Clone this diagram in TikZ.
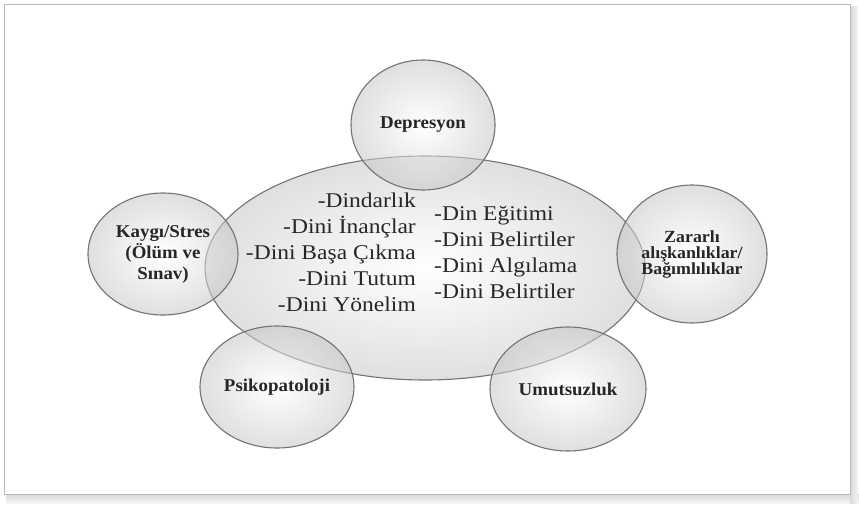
\documentclass[tikz,border=0pt]{standalone}
\usepackage{fontspec}
\setmainfont{Liberation Serif}
\newfontfamily\listfont[FakeStretch=1.12]{Liberation Serif}
\newfontfamily\labelfont[FakeStretch=1.05]{Liberation Serif}
\usetikzlibrary{shapes.geometric}
\tikzset{
  glass/.style={ellipse, inner sep=0pt, draw=black!55, line width=1.1pt,
    shading=radial, inner color=white, outer color=gray!45, fill opacity=0.55,
    text opacity=1, text=black!85, align=center},
  smalllabel/.style={glass, font=\labelfont\bfseries\fontsize{18}{21}\selectfont},
  listtext/.style={inner sep=0pt, text=black!85, font=\listfont\fontsize{21}{26}\selectfont}
}
\begin{document}
\begin{tikzpicture}[x=1pt, y=-1pt]
\useasboundingbox (0,0) rectangle (859,504);
\shade[top color=gray!30, bottom color=gray!8] (6,494) rectangle (859,503);
\shade[left color=gray!30, right color=gray!8] (850,6) rectangle (858,503);
\draw[gray!55, line width=0.8pt] (4.5,4.5) rectangle (850,494);

\node[glass, minimum width=440pt, minimum height=224pt] (core) at (425,268) {};

\node[smalllabel, minimum width=144pt, minimum height=130pt] (depresyon) at (423,125) {Depresyon};
\node[smalllabel, minimum width=150pt, minimum height=122pt] (kaygi) at (163,254) {Kaygı/Stres\\(Ölüm ve\\Sınav)};
\node[smalllabel, minimum width=150pt, minimum height=138pt, font=\labelfont\bfseries\fontsize{17}{16}\selectfont] (zararli) at (692,254) {Zararlı\\alışkanlıklar/\\Bağımlılıklar};
\node[smalllabel, minimum width=154pt, minimum height=122pt] (psiko) at (277,387) {Psikopatoloji};
\node[smalllabel, minimum width=156pt, minimum height=124pt] (umut) at (568,389) {Umutsuzluk};

\node[listtext, anchor=east, align=right] (leftlist) at ([shift={(-9pt,16pt)}]core.center)
  {-Dindarlık\\-Dini İnançlar\\-Dini Başa Çıkma\\-Dini Tutum\\-Dini Yönelim};
\node[listtext, anchor=west, align=left] (rightlist) at ([shift={(9pt,16pt)}]core.center)
  {-Din Eğitimi\\-Dini Belirtiler\\-Dini Algılama\\-Dini Belirtiler};
\end{tikzpicture}
\end{document}
